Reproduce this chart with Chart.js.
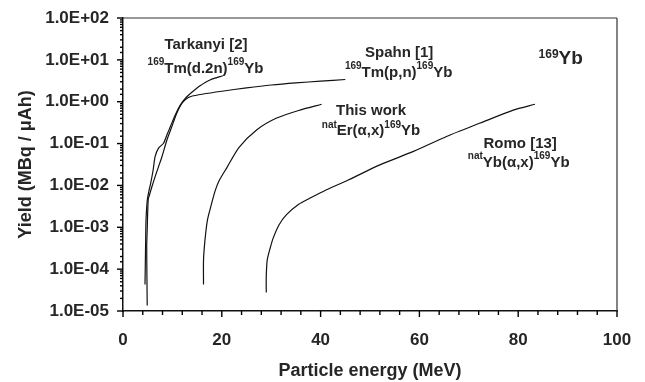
<!DOCTYPE html>
<html>
<head>
<meta charset="utf-8">
<script src="https://cdn.jsdelivr.net/npm/chart.js@4"></script>
<style>
  body { margin: 0; background: #fff; }
  canvas { display: block; }
</style>
</head>
<body>
<canvas id="yieldChart" width="645" height="382"></canvas>
<script>
const FONT = '"Liberation Sans", Arial, Helvetica, sans-serif';
const INK = '#262626';

// Tarkanyi [2] 169Tm(d,2n)169Yb
const tarkanyiEnergy = [4.45, 4.52, 4.59, 4.66, 4.93, 5.3, 5.6, 6.1, 6.5, 7.2, 8.2, 8.9, 9.6, 10.6, 11.6, 12.6, 14.0, 15.6, 17.6, 20.2];
const tarkanyiYield = [4.3e-5, 1.4e-4, 5.0e-4, 1.5e-3, 4.6e-3, 7.9e-3, 0.0112, 0.0234, 0.049, 0.078, 0.102, 0.162, 0.257, 0.49, 0.83, 1.20, 1.70, 2.40, 3.31, 4.17];

// Spahn [1] 169Tm(p,n)169Yb
const spahnEnergy = [4.9, 4.85, 4.8, 4.9, 5.1, 5.3, 5.8, 6.5, 7.2, 7.9, 8.9, 9.9, 10.9, 11.9, 12.9, 13.9, 16, 20, 25, 30, 35, 40, 45];
const spahnYield = [1.35e-5, 5.6e-5, 3.5e-4, 8.7e-4, 4.6e-3, 5.6e-3, 8.9e-3, 0.0162, 0.0282, 0.049, 0.123, 0.257, 0.537, 0.91, 1.20, 1.35, 1.51, 1.78, 2.14, 2.51, 2.82, 3.09, 3.39];

// This work natEr(a,x)169Yb
const erEnergy = [16.3, 16.3, 16.6, 17.1, 17.8, 18.6, 19.4, 21.0, 23.5, 27.1, 31.1, 35.8, 40.2];
const erYield = [4.3e-5, 1.66e-4, 5.0e-4, 1.5e-3, 3.2e-3, 7.1e-3, 0.0126, 0.0263, 0.081, 0.214, 0.407, 0.63, 0.87];

// Romo [13] natYb(a,x)169Yb
const romoEnergy = [29.0, 29.0, 29.2, 29.8, 30.4, 31.6, 33.1, 35.5, 37.9, 41.2, 45.6, 52.0, 58.8, 65.5, 72.3, 79.0, 83.4];
const romoYield = [2.75e-5, 6.8e-5, 1.66e-4, 3.2e-4, 5.5e-4, 1.15e-3, 2.0e-3, 3.5e-3, 5.0e-3, 7.9e-3, 0.0135, 0.031, 0.065, 0.148, 0.309, 0.63, 0.87];

// axis ticks
const yDecades = [1e-5, 1e-4, 1e-3, 1e-2, 1e-1, 1e0, 1e1, 1e2];
const yTickLabels = ['1.0E-05', '1.0E-04', '1.0E-03', '1.0E-02', '1.0E-01', '1.0E+00', '1.0E+01', '1.0E+02'];
const xTickLabels = [0, 20, 40, 60, 80, 100];

// text labels inside the plot: {..} is superscript; x in MeV, y in MBq/uAh (baseline)
const plotLabels = [
  { text: 'Tarkanyi [2]', x: 16.8, y: 18, size: 15 },
  { text: '{169}Tm(d.2n){169}Yb', x: 16.7, y: 4.9, size: 15 },
  { text: 'Spahn [1]', x: 55.9, y: 11.7, size: 15 },
  { text: '{169}Tm(p,n){169}Yb', x: 55.8, y: 3.9, size: 15 },
  { text: '{169}Yb', x: 88.6, y: 7.8, size: 19 },
  { text: 'This work', x: 50.2, y: 0.48, size: 15 },
  { text: '{nat}Er(α,x){169}Yb', x: 50.2, y: 0.16, size: 15 },
  { text: 'Romo [13]', x: 80.4, y: 0.079, size: 15 },
  { text: '{nat}Yb(α,x){169}Yb', x: 80.1, y: 0.0278, size: 15 }
];

function toPoints(xs, ys) {
  return xs.map((x, i) => ({ x: x, y: ys[i] }));
}

function isDecade(v) {
  const l = Math.log10(v);
  return Math.abs(l - Math.round(l)) < 1e-6;
}

function drawRich(ctx, text, cx, baseline, size) {
  const supSize = Math.round(size * 0.64);
  const raise = size >= 18 ? 6.5 : 7.5;
  const parts = text.split(/(\{[^}]*\})/).filter(s => s.length).map(s => {
    const sup = s[0] === '{';
    return { t: sup ? s.slice(1, -1) : s, sup: sup };
  });
  let total = 0;
  parts.forEach(p => {
    ctx.font = 'bold ' + (p.sup ? supSize : size) + 'px ' + FONT;
    p.w = ctx.measureText(p.t).width;
    total += p.w;
  });
  let x = cx - total / 2;
  parts.forEach(p => {
    ctx.font = 'bold ' + (p.sup ? supSize : size) + 'px ' + FONT;
    ctx.fillText(p.t, x, p.sup ? baseline - raise : baseline);
    x += p.w;
  });
}

function seg(ctx, x1, y1, x2, y2) {
  ctx.beginPath();
  ctx.moveTo(x1, y1);
  ctx.lineTo(x2, y2);
  ctx.stroke();
}

// keep the plot box fixed: no extra room for half labels at the ends
function fixBox(s) {
  s.paddingLeft = 0;
  s.paddingRight = 0;
  s.paddingTop = 0;
  s.paddingBottom = 0;
}

const frameTicksLabels = {
  id: 'frameTicksLabels',
  afterDraw(chart) {
    const ctx = chart.ctx;
    const a = chart.chartArea;
    const xs = chart.scales.x;
    const ys = chart.scales.y;
    ctx.save();

    // frame on top and right
    ctx.strokeStyle = '#333';
    ctx.lineWidth = 1.2;
    seg(ctx, a.left, a.top, a.right, a.top);
    seg(ctx, a.right, a.top, a.right, a.bottom);

    // tick marks, longer on the labelled values
    ctx.strokeStyle = '#000';
    ctx.lineWidth = 1.4;
    for (let v = 0; v <= 100; v += 4) {
      const px = xs.getPixelForValue(v);
      seg(ctx, px, a.bottom, px, a.bottom + (xTickLabels.includes(v) ? 6 : 4));
    }
    ys.ticks.forEach(t => {
      const py = ys.getPixelForValue(t.value);
      seg(ctx, a.left, py, a.left - (isDecade(t.value) ? 6 : 3), py);
    });

    // labels
    ctx.fillStyle = INK;
    ctx.textBaseline = 'alphabetic';
    ctx.textAlign = 'left';
    plotLabels.forEach(l => {
      drawRich(ctx, l.text, xs.getPixelForValue(l.x), ys.getPixelForValue(l.y), l.size);
    });
    ctx.restore();
  }
};

const lineStyle = {
  showLine: true,
  borderColor: '#111',
  borderWidth: 1.2,
  pointRadius: 0,
  tension: 0.25,
  fill: false
};

new Chart(document.getElementById('yieldChart').getContext('2d'), {
  type: 'scatter',
  data: {
    datasets: [
      Object.assign({ label: 'Tarkanyi [2]', data: toPoints(tarkanyiEnergy, tarkanyiYield) }, lineStyle),
      Object.assign({ label: 'Spahn [1]', data: toPoints(spahnEnergy, spahnYield) }, lineStyle),
      Object.assign({ label: 'This work', data: toPoints(erEnergy, erYield) }, lineStyle),
      Object.assign({ label: 'Romo [13]', data: toPoints(romoEnergy, romoYield) }, lineStyle)
    ]
  },
  options: {
    responsive: false,
    animation: false,
    devicePixelRatio: 1,
    layout: { padding: { top: 18, right: 28, left: 0, bottom: 0 } },
    plugins: {
      legend: { display: false },
      tooltip: { enabled: false }
    },
    scales: {
      x: {
        type: 'linear',
        min: 0,
        max: 100,
        afterFit: s => { s.height = 71; fixBox(s); },
        grid: { display: false, drawTicks: false },
        border: { display: true, color: '#111', width: 1.5 },
        ticks: {
          stepSize: 4,
          autoSkip: false,
          maxRotation: 0,
          padding: 19,
          color: INK,
          font: { family: FONT, size: 17, weight: 'bold' },
          callback: v => xTickLabels.includes(v) ? String(v) : ''
        },
        title: {
          display: true,
          text: 'Particle energy (MeV)',
          color: INK,
          font: { family: FONT, size: 18, weight: 'bold' },
          padding: { top: 0, bottom: 0 }
        }
      },
      y: {
        type: 'logarithmic',
        min: 1e-5,
        max: 100,
        afterFit: s => { s.width = 123; fixBox(s); },
        grid: { display: false, drawTicks: false },
        border: { display: true, color: '#111', width: 1.5 },
        ticks: {
          autoSkip: false,
          padding: 14,
          color: INK,
          font: { family: FONT, size: 17, weight: 'bold' },
          callback: v => {
            const i = yDecades.findIndex(d => Math.abs(Math.log10(v) - Math.log10(d)) < 1e-6);
            return i >= 0 ? yTickLabels[i] : '';
          }
        },
        title: {
          display: true,
          text: 'Yield (MBq / μAh)',
          color: INK,
          font: { family: FONT, size: 18, weight: 'bold' },
          padding: { top: 15, bottom: 0 }
        }
      }
    }
  },
  plugins: [frameTicksLabels]
});
</script>
</body>
</html>
